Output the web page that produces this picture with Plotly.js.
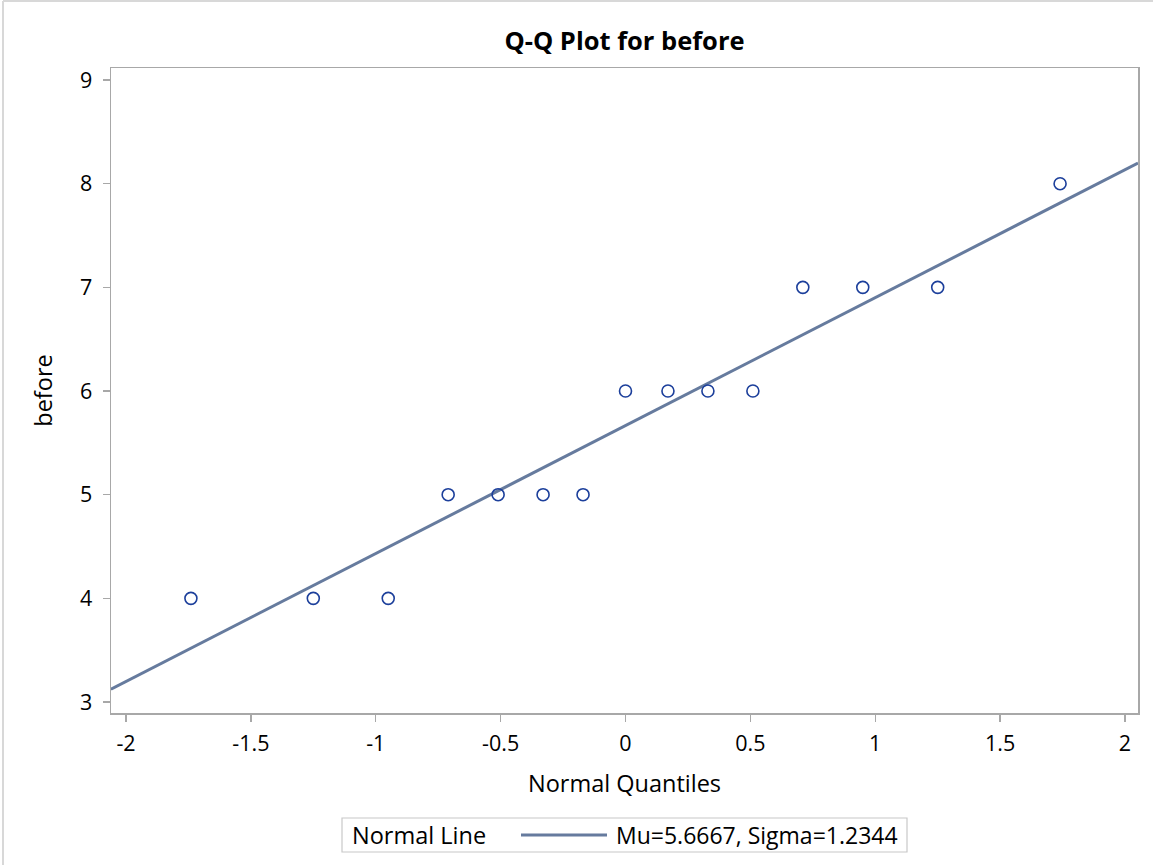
<!DOCTYPE html>
<html>
<head>
<meta charset="utf-8">
<script src="https://cdn.plot.ly/plotly-3.0.1.min.js"></script>
<style>
html,body{margin:0;padding:0;background:#fff;}
#chart{width:1153px;height:865px;}
</style>
</head>
<body>
<div id="chart"></div>
<script>
const normalQuantiles = [-1.74, -1.25, -0.95, -0.71, -0.51, -0.33, -0.17, 0, 0.17, 0.33, 0.51, 0.71, 0.95, 1.25, 1.74];
const beforeValues    = [4, 4, 4, 5, 5, 5, 5, 6, 6, 6, 6, 7, 7, 7, 8];
// Normal reference line endpoints (Mu=5.6667, Sigma=1.2344)
const lineX = [-2.06, 2.052];
const lineY = [3.124, 8.199];
const xTicks = [-2, -1.5, -1, -0.5, 0, 0.5, 1, 1.5, 2];
const xTickText = ['-2', '-1.5', '-1', '-0.5', '0', '0.5', '1', '1.5', '2'];
const yTicks = [3, 4, 5, 6, 7, 8, 9];
const legendTitle = 'Normal Line';
const legendLabel = 'Mu=5.6667, Sigma=1.2344';

const FONT = 'Open Sans, Noto Sans, sans-serif';
const LINE_COLOR = '#667b9e';

const traces = [
  {
    x: lineX, y: lineY, mode: 'lines', type: 'scatter',
    name: legendLabel,
    line: {color: LINE_COLOR, width: 3},
    showlegend: false, hoverinfo: 'skip'
  },
  {
    x: normalQuantiles, y: beforeValues, mode: 'markers', type: 'scatter',
    name: 'before',
    marker: {symbol: 'circle-open', size: 12, color: '#1c3f9b', line: {width: 1.6, color: '#1c3f9b'}},
    showlegend: false
  }
];

const axisCommon = {
  showline: true, linecolor: '#a8a8a8', linewidth: 1.5, mirror: true,
  showgrid: false, zeroline: false,
  ticks: 'outside', ticklen: 7, tickwidth: 1.5, tickcolor: '#a8a8a8',
  tickfont: {family: FONT, size: 21.5, color: '#000'}
};

// helpers: pixel -> paper coords (plot area 111..1138 x 68..713)
const px = v => (v - 111) / 1027;
const py = v => (713 - v) / 645;

const layout = {
  width: 1153, height: 865,
  paper_bgcolor: '#fff', plot_bgcolor: '#fff',
  margin: {l: 111, r: 15, t: 68, b: 152},
  title: {text: '<b>Q-Q Plot for before</b>', x: 0.5, xanchor: 'center', xref: 'paper', y: 0.952, yanchor: 'middle',
          font: {family: FONT, size: 25.5, color: '#000'}},
  xaxis: Object.assign({}, axisCommon, {
    range: [-2.06, 2.052], tickvals: xTicks, ticktext: xTickText, ticklabelstandoff: 4,
    title: {text: 'Normal Quantiles', font: {family: FONT, size: 23.5, color: '#000'}, standoff: 19}
  }),
  yaxis: Object.assign({}, axisCommon, {
    range: [2.894, 9.116], tickvals: yTicks, ticklabelstandoff: 6,
    title: {text: 'before', font: {family: FONT, size: 23.5, color: '#000'}, standoff: 20}
  }),
  showlegend: false,
  shapes: [
    // page frame
    {type: 'line', xref: 'paper', yref: 'paper', x0: px(3), x1: px(1153), y0: py(1), y1: py(1), line: {color: '#d8d8d8', width: 2}},
    {type: 'line', xref: 'paper', yref: 'paper', x0: px(3), x1: px(3), y0: py(865), y1: py(1), line: {color: '#d8d8d8', width: 2}},
    // legend box
    {type: 'rect', xref: 'paper', yref: 'paper', x0: px(342), x1: px(907), y0: py(852), y1: py(818),
     line: {color: '#c8c8c8', width: 1.2}, fillcolor: '#fff'},
    // legend line sample
    {type: 'line', xref: 'paper', yref: 'paper', x0: px(521), x1: px(607), y0: py(835), y1: py(835),
     line: {color: LINE_COLOR, width: 3}}
  ],
  annotations: [
    {text: legendTitle, xref: 'paper', yref: 'paper', x: px(350), y: py(835), xanchor: 'left', yanchor: 'middle',
     showarrow: false, font: {family: FONT, size: 23.5, color: '#000'}},
    {text: legendLabel, xref: 'paper', yref: 'paper', x: px(614), y: py(835), xanchor: 'left', yanchor: 'middle',
     showarrow: false, font: {family: FONT, size: 23, color: '#000'}}
  ]
};

Plotly.newPlot('chart', traces, layout, {displayModeBar: false, staticPlot: true});
</script>
</body>
</html>
